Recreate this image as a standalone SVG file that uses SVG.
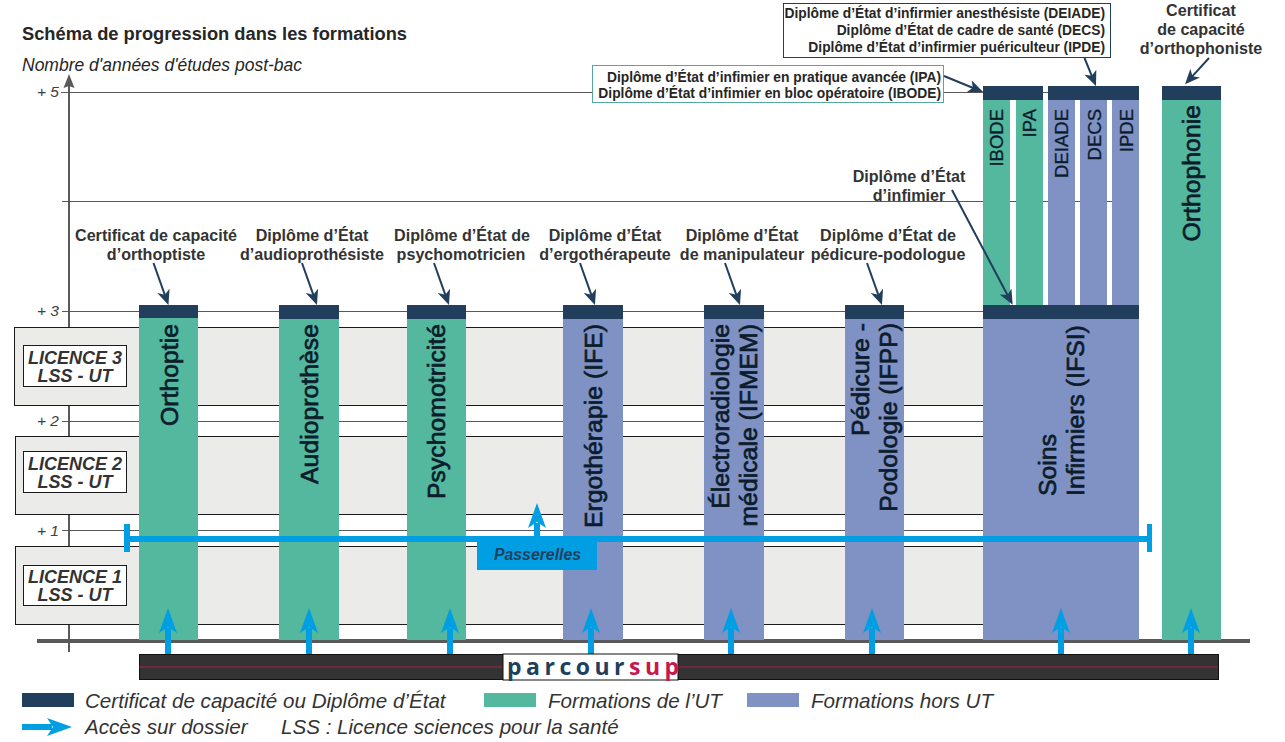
<svg xmlns="http://www.w3.org/2000/svg" width="1285" height="742" viewBox="0 0 1285 742">
<style>
text{font-family:"Liberation Sans",Arial,sans-serif;fill:#262626}
.b{font-weight:bold}
.i{font-style:italic}
.dip{font-weight:bold;font-size:16.1px;text-anchor:middle;fill:#333}
.dr{font-weight:bold;font-size:13.8px;text-anchor:end;fill:#262626}
.tick{font-size:15.500px;font-style:italic;text-anchor:end;fill:#404040}
.grid{stroke:#595959;stroke-width:1;fill:none}
.band{fill:#ebebe9;stroke:#1a1a1a;stroke-width:1}
.lic{fill:#fff;stroke:#1a1a1a;stroke-width:1}
.lict{font-weight:bold;font-style:italic;font-size:18px;text-anchor:middle;fill:#333}
.g{fill:#53b89e}.v{fill:#8092c4}.d{fill:#213f5c}
.vt{font-size:24.8px;text-anchor:end;fill:#0c1c2c;stroke:#0c1c2c;stroke-width:.7px}
.st{text-anchor:start}
.vs{font-size:18.5px;text-anchor:end;fill:#0c1c2c;stroke:#0c1c2c;stroke-width:.3px}
.leg{font-size:20.6px;font-style:italic;fill:#333}
.con{stroke:#213f5c;stroke-width:2;fill:none;marker-end:url(#da)}
.up{stroke:#009fe3;stroke-width:6;fill:none;marker-end:url(#ba)}
</style>
<defs>
<marker id="da" viewBox="0 0 15 13" refX="5" refY="6.500" markerWidth="15" markerHeight="13" markerUnits="userSpaceOnUse" orient="auto"><path d="M0 0L15 6.500L0 13L4 6.500Z" fill="#213f5c"/></marker>
<marker id="ba" viewBox="0 0 25 18" refX="5" refY="9" markerWidth="25" markerHeight="18" markerUnits="userSpaceOnUse" orient="auto"><path d="M0 0L25 9L0 18L6 9Z" fill="#009fe3"/></marker>
</defs>
<g id="title">
<text x="22" y="40" class="b" font-size="18.300" fill="#333">Schéma de progression dans les formations</text>
<text x="22" y="71" class="i" font-size="17.500">Nombre d'années d'études post-bac</text>
</g>
<g id="axis">
<path class="grid" d="M61 92.500H1139M62 201.500H1139M62 311.500H983M62 421.500H983M62 530.500H983"/>
<path d="M69 86V652" stroke="#595959" stroke-width="2"/>
<path d="M69 74L74.500 88L69 86L63.500 88Z" fill="#595959"/>
<text class="tick" x="59" y="97">+ 5</text>
<text class="tick" x="59" y="316">+ 3</text>
<text class="tick" x="59" y="426">+ 2</text>
<text class="tick" x="59" y="536">+ 1</text>
</g>
<g id="licences">
<rect class="band" x="14.500" y="327.500" width="969" height="78"/>
<rect class="band" x="15.500" y="436.500" width="968" height="78"/>
<rect class="band" x="15.500" y="546.500" width="968" height="78"/>
<rect class="lic" x="23.500" y="345.500" width="103" height="41"/>
<rect class="lic" x="23.500" y="451.500" width="103" height="41"/>
<rect class="lic" x="23.500" y="565.500" width="103" height="40"/>
<text class="lict" x="75" y="364">LICENCE 3</text><text class="lict" x="75" y="382">LSS - UT</text>
<text class="lict" x="75" y="470">LICENCE 2</text><text class="lict" x="75" y="488">LSS - UT</text>
<text class="lict" x="75" y="583">LICENCE 1</text><text class="lict" x="75" y="601">LSS - UT</text>
</g>
<rect x="37" y="639" width="1213" height="4" fill="#595959"/>
<g id="orthoptie"><rect class="g" x="139" y="318" width="59" height="322"/><rect class="d" x="139" y="305" width="59" height="13"/>
<text class="vt" transform="translate(177.700 324) rotate(-90)">Orthoptie</text>
<text class="dip" x="156" y="241">Certificat de capacité</text><text class="dip" x="156" y="260">d’orthoptiste</text></g>
<g id="audioprothese"><rect class="g" x="279" y="318" width="60" height="322"/><rect class="d" x="279" y="305" width="60" height="14"/>
<text class="vt" transform="translate(317.700 324) rotate(-90)">Audioprothèse</text>
<text class="dip" x="312" y="241">Diplôme d’État</text><text class="dip" x="312" y="260">d’audioprothésiste</text></g>
<g id="psychomotricite"><rect class="g" x="407" y="318" width="59" height="322"/><rect class="d" x="407" y="305" width="59" height="14"/>
<text class="vt" transform="translate(445 324) rotate(-90)">Psychomotricité</text>
<text class="dip" x="462" y="241">Diplôme d’État de</text><text class="dip" x="461" y="260">psychomotricien</text></g>
<g id="ergotherapie"><rect class="v" x="563" y="318" width="60" height="322"/><rect class="d" x="563" y="305" width="60" height="14"/>
<text class="vt" transform="translate(601.700 324) rotate(-90)">Ergothérapie (IFE)</text>
<text class="dip" x="605" y="241">Diplôme d’État</text><text class="dip" x="605" y="260">d’ergothérapeute</text></g>
<g id="electroradiologie"><rect class="v" x="704" y="318" width="60" height="322"/><rect class="d" x="704" y="305" width="60" height="14"/>
<text class="vt" transform="translate(729 324) rotate(-90)">Électroradiologie</text><text class="vt" transform="translate(757 324) rotate(-90)">médicale (IFMEM)</text>
<text class="dip" x="742" y="241">Diplôme d’État</text><text class="dip" x="742" y="260">de manipulateur</text></g>
<g id="pedicure"><rect class="v" x="845" y="318" width="59" height="322"/><rect class="d" x="845" y="305" width="59" height="14"/>
<text class="vt" transform="translate(869 323) rotate(-90)">Pédicure -</text><text class="vt" transform="translate(897 323) rotate(-90)">Podologie (IFPP)</text>
<text class="dip" x="888" y="241">Diplôme d’État de</text><text class="dip" x="888" y="260">pédicure-podologue</text></g>
<g id="soins"><rect class="v" x="983" y="318" width="156" height="322"/>
<rect class="g" x="983" y="100" width="27" height="205"/><rect class="g" x="1016" y="100" width="27" height="205"/>
<rect class="v" x="1048" y="100" width="27" height="205"/><rect class="v" x="1080" y="100" width="27" height="205"/><rect class="v" x="1112" y="100" width="27" height="205"/>
<rect class="d" x="983" y="305" width="156" height="14"/><rect class="d" x="983" y="86" width="60" height="14"/><rect class="d" x="1048" y="86" width="91" height="14"/>
<text class="vt st" transform="translate(1056 496) rotate(-90)">Soins</text><text class="vt st" transform="translate(1084 496) rotate(-90)">Infirmiers (IFSI)</text>
<text class="vs" transform="translate(1003 109) rotate(-90)">IBODE</text><text class="vs" transform="translate(1036 109) rotate(-90)">IPA</text>
<text class="vs" transform="translate(1068 109) rotate(-90)">DEIADE</text><text class="vs" transform="translate(1100.500 109) rotate(-90)">DECS</text><text class="vs" transform="translate(1133 109) rotate(-90)">IPDE</text>
<text class="dip" x="909" y="182">Diplôme d’État</text><text class="dip" x="909" y="201">d’infimier</text></g>
<g id="orthophonie"><rect class="g" x="1162" y="100" width="59" height="540"/><rect class="d" x="1162" y="86" width="59" height="14"/>
<text class="vt" transform="translate(1200 105) rotate(-90)">Orthophonie</text>
<text class="dip" x="1201" y="16">Certificat</text><text class="dip" x="1201" y="35">de capacité</text><text class="dip" x="1201" y="54">d’orthophoniste</text></g>
<g id="diplomes-haut">
<rect x="783.500" y="3.500" width="327" height="54" fill="#fff" stroke="#213f5c"/>
<text class="dr" x="1105" y="17.500">Diplôme d’État d’infirmier anesthésiste (DEIADE)</text>
<text class="dr" x="1105" y="34.500">Diplôme d’État de cadre de santé (DECS)</text>
<text class="dr" x="1105" y="51.500">Diplôme d’État d’infirmier puériculteur (IPDE)</text>
<rect x="592.500" y="65.500" width="351" height="37" fill="#fff" stroke="#53a8a0"/>
<text class="dr" x="941" y="81.500">Diplôme d’État d’infimier en pratique avancée (IPA)</text>
<text class="dr" x="941" y="98">Diplôme d’État d’infimier en bloc opératoire (IBODE)</text>
</g>
<g id="connectors">
<path class="con" d="M153.500 263L165.100 295.600"/><path class="con" d="M302 263L313.600 295.600"/><path class="con" d="M434 263L445.600 295.600"/><path class="con" d="M580 263L591.600 295.600"/><path class="con" d="M725 263L736.600 295.600"/><path class="con" d="M867 263L878.600 295.600"/>
<path class="con" d="M952 190L1008 296"/><path class="con" d="M944 76L973.800 88.200"/><path class="con" d="M1084.500 58L1092.200 76.800"/><path class="con" d="M1209 58L1191.800 76.900"/>
<path class="up" d="M168 654V628"/><path class="up" d="M309 654V628"/><path class="up" d="M450 654V628"/><path class="up" d="M591 654V628"/><path class="up" d="M731 654V628"/><path class="up" d="M872 654V628"/><path class="up" d="M1061 654V628"/><path class="up" d="M1191 654V628"/>
<path class="up" d="M537 541V523"/>
<path d="M127 539H1149" stroke="#009fe3" stroke-width="6"/>
<path d="M127 524V552" stroke="#009fe3" stroke-width="6"/><path d="M1149.500 524V552" stroke="#009fe3" stroke-width="5"/>
</g>
<g id="passerelles"><rect x="477" y="541" width="120" height="29" fill="#009fe3"/><text x="537.500" y="560" text-anchor="middle" class="b i" font-size="15.800" style="fill:#213f5c">Passerelles</text></g>
<g id="parcoursup">
<rect x="139.500" y="654.500" width="1079" height="25" fill="#333" stroke="#111"/>
<path d="M139 667H1217" stroke="#a81f45" stroke-width="1"/>
<rect x="503" y="654" width="175" height="26" fill="#fff" stroke="#111"/>
<text x="507" y="675" font-size="23" letter-spacing="4.500" style="fill:#213f5c;font-family:'Open Sans',sans-serif;font-weight:700">parcour<tspan style="fill:#c8174f">sup</tspan></text>
</g>
<g id="legende">
<rect class="d" x="22" y="693" width="52" height="14"/><text class="leg" x="85" y="708">Certificat de capacité ou Diplôme d’État</text>
<rect class="g" x="484" y="693" width="52" height="14"/><text class="leg" x="548" y="708">Formations de l’UT</text>
<rect class="v" x="747" y="693" width="52" height="14"/><text class="leg" x="811" y="708">Formations hors UT</text>
<path class="up" d="M22 727H52"/><text class="leg" x="85" y="734">Accès sur dossier</text><text class="leg" x="281" y="734">LSS : Licence sciences pour la santé</text>
</g>
</svg>
